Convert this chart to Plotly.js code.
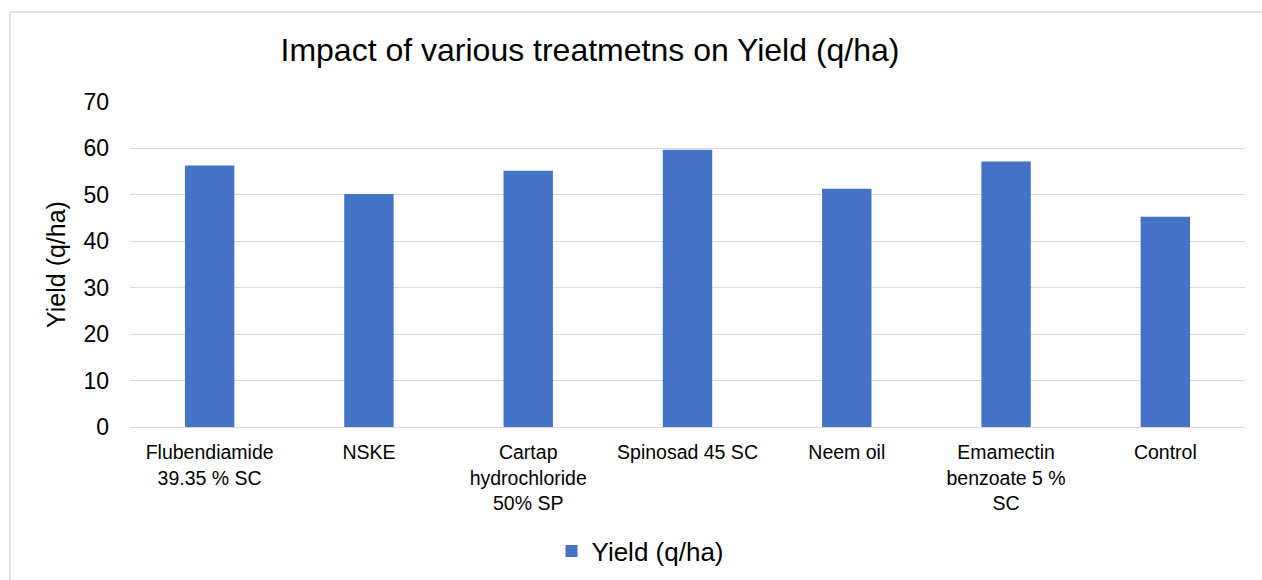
<!DOCTYPE html>
<html>
<head>
<meta charset="utf-8">
<script src="https://cdn.plot.ly/plotly-3.0.1.min.js"></script>
<style>html,body{margin:0;padding:0;background:#fff;}#chart{width:1262px;height:580px;}</style>
</head>
<body>
<div id="chart"></div>
<script>
const categories = [
  "Flubendiamide<br>39.35 % SC",
  "NSKE",
  "Cartap<br>hydrochloride<br>50% SP",
  "Spinosad 45 SC",
  "Neem oil",
  "Emamectin<br>benzoate 5 %<br>SC",
  "Control"
];
const yieldValues = [56.3, 50.2, 55.2, 59.7, 51.3, 57.2, 45.3];
const yTicks = [0, 10, 20, 30, 40, 50, 60, 70];
const seriesName = "Yield (q/ha)";

const FONT = "Liberation Sans, Arial, sans-serif";

const trace = {
  type: "bar",
  x: categories,
  y: yieldValues,
  name: seriesName,
  marker: {color: "#4472C4"},
  width: 0.31,
  showlegend: true,
  hoverinfo: "x+y"
};

const layout = {
  width: 1262,
  height: 580,
  paper_bgcolor: "#ffffff",
  plot_bgcolor: "#ffffff",
  margin: {l: 130, r: 17, t: 102, b: 153},
  font: {family: FONT, color: "#000000"},
  title: {
    text: "Impact of various treatmetns on Yield (q/ha)",
    font: {family: FONT, size: 32, color: "#000000"},
    xref: "container", x: 590/1262, xanchor: "center",
    yref: "container", y: 1 - 50/580, yanchor: "middle"
  },
  xaxis: {
    type: "category",
    showgrid: false,
    showline: true,
    linecolor: "#d9d9d9",
    linewidth: 1,
    ticks: "",
    ticklabelstandoff: 8,
    tickfont: {family: FONT, size: 19.5, color: "#000000"},
    tickangle: 0,
    automargin: false
  },
  yaxis: {
    range: [0, 70],
    tickvals: yTicks,
    ticktext: yTicks.map(String),
    showgrid: true,
    gridcolor: "#d9d9d9",
    gridwidth: 1,
    zeroline: false,
    showline: false,
    ticks: "",
    ticklabelstandoff: 20,
    tickfont: {family: FONT, size: 23, color: "#000000"},
    title: {text: "Yield (q/ha)", font: {family: FONT, size: 25, color: "#000000"}, standoff: 10},
    automargin: false
  },
  legend: {
    orientation: "h",
    x: 640/1262, xref: "container", xanchor: "center",
    y: 1 - 551/580, yref: "container", yanchor: "middle",
    font: {family: FONT, size: 26, color: "#000000"},
    itemwidth: 30
  },
  shapes: [{
    type: "rect", xref: "paper", yref: "paper",
    x0: (10 - 130) / (1262 - 147), x1: (1262 + 5 - 130) / (1262 - 147),
    y0: -(590 - 427) / 325, y1: 1 + (102 - 12) / 325,
    line: {color: "#d9d9d9", width: 1.5},
    fillcolor: "rgba(0,0,0,0)",
    layer: "below"
  }],
  bargap: 0.69
};

Plotly.newPlot("chart", [trace], layout, {displayModeBar: false, responsive: false});
</script>
</body>
</html>
